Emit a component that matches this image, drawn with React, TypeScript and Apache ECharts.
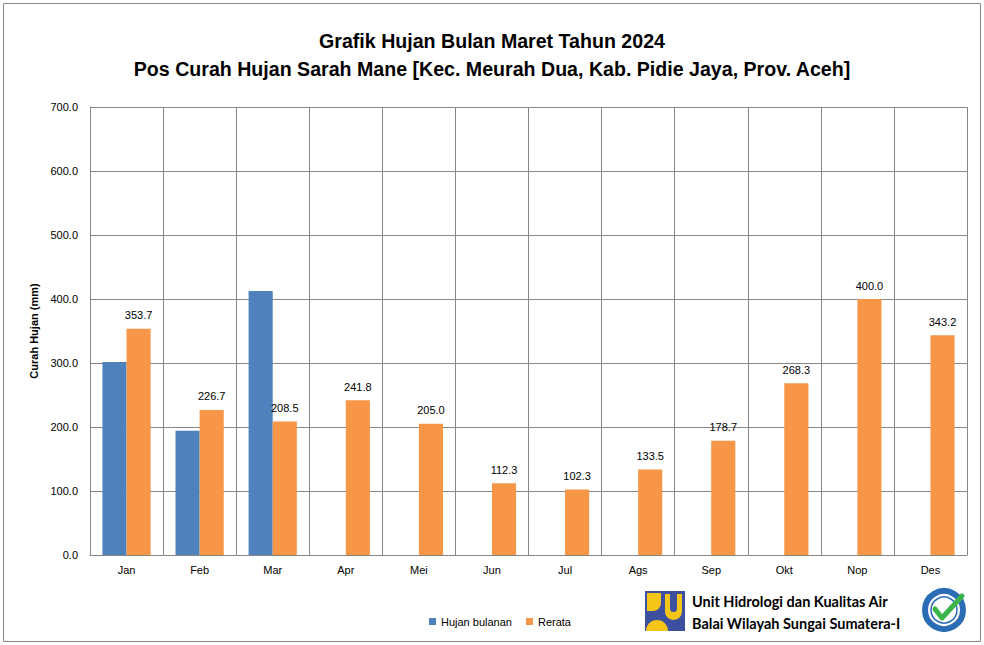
import React, { useEffect, useRef } from "react";
import * as echarts from "echarts";

const months = ["Jan", "Feb", "Mar", "Apr", "Mei", "Jun", "Jul", "Ags", "Sep", "Okt", "Nop", "Des"];
const hujanBulanan: (number | null)[] = [301.5, 194.0, 412.5, null, null, null, null, null, null, null, null, null];
const rerata = [353.7, 226.7, 208.5, 241.8, 205.0, 112.3, 102.3, 133.5, 178.7, 268.3, 400.0, 343.2];
const yTicks = { min: 0, max: 700, interval: 100 };

const titleLine1 = "Grafik Hujan Bulan Maret Tahun 2024";
const titleLine2 = "Pos Curah Hujan Sarah Mane [Kec. Meurah Dua, Kab. Pidie Jaya, Prov. Aceh]";

const NARROW = "'Liberation Sans Narrow', 'Arial Narrow', 'Liberation Sans', Arial, sans-serif";

export default function App() {
  const ref = useRef<HTMLDivElement>(null);
  useEffect(() => {
    if (!ref.current) return;
    const chart = echarts.init(ref.current, undefined, { renderer: "svg" });
    chart.setOption({
      animation: false,
      backgroundColor: "#ffffff",
      title: {
        text: titleLine1 + "\n" + titleLine2,
        left: "center",
        top: 22,
        textStyle: {
          fontFamily: NARROW,
          fontWeight: "bold",
          fontSize: 19.6,
          lineHeight: 28,
          color: "#000",
        },
      },
      legend: {
        bottom: 13,
        left: 424,
        itemWidth: 7,
        itemHeight: 7,
        itemGap: 14,
        icon: "rect",
        textStyle: { fontFamily: NARROW, fontSize: 11, color: "#000" },
        data: ["Hujan bulanan", "Rerata"],
      },
      grid: { left: 90, right: 17, top: 107, bottom: 90 },
      xAxis: {
        type: "category",
        data: months,
        axisLine: { lineStyle: { color: "#868686" } },
        axisTick: { show: false },
        splitLine: { show: true, lineStyle: { color: "#868686", width: 1 } },
        axisLabel: { fontFamily: NARROW, fontSize: 11, color: "#000", margin: 9 },
      },
      yAxis: {
        type: "value",
        min: yTicks.min,
        max: yTicks.max,
        interval: yTicks.interval,
        name: "Curah Hujan (mm)",
        nameLocation: "middle",
        nameGap: 43,
        nameTextStyle: { fontFamily: NARROW, fontWeight: "bold", fontSize: 11, color: "#000" },
        axisLine: { show: true, lineStyle: { color: "#868686" } },
        axisTick: { show: false },
        splitLine: { show: true, lineStyle: { color: "#868686", width: 1 } },
        axisLabel: {
          fontFamily: NARROW,
          fontSize: 11,
          color: "#000",
          margin: 12,
          formatter: (v: number) => v.toFixed(1),
        },
      },
      series: [
        {
          name: "Hujan bulanan",
          type: "bar",
          data: hujanBulanan,
          barGap: "0%",
          barCategoryGap: "34%",
          itemStyle: { color: "#4f81bd" },
        },
        {
          name: "Rerata",
          type: "bar",
          data: rerata,
          barGap: "0%",
          barCategoryGap: "34%",
          itemStyle: { color: "#f79646" },
          label: {
            show: true,
            position: "top",
            distance: 8,
            fontFamily: NARROW,
            fontSize: 11,
            color: "#000",
            formatter: (p: any) => Number(p.value).toFixed(1),
          },
        },
      ],
      graphic: [
        {
          type: "rect",
          shape: { x: 3.5, y: 3.5, width: 977, height: 638 },
          style: { fill: "none", stroke: "#868686", lineWidth: 1 },
          silent: true,
        },
        // PU logo
        {
          type: "group",
          left: 645,
          top: 591,
          children: [
            { type: "rect", shape: { x: 0, y: 0, width: 40, height: 40 }, style: { fill: "#3d4f9f" } },
            { type: "rect", shape: { x: 2, y: 2, width: 14, height: 18, r: [0, 0, 8, 0] }, style: { fill: "#f5c518" } },
            { type: "sector", shape: { cx: 12, cy: 40, r0: 0, r: 11, startAngle: Math.PI, endAngle: Math.PI * 2 }, style: { fill: "#f5c518" } },
            { type: "rect", shape: { x: 20, y: 3, width: 17, height: 26, r: [0, 0, 9, 9] }, style: { fill: "#f5c518" } },
            { type: "rect", shape: { x: 25, y: 3, width: 7, height: 18, r: [0, 0, 4, 4] }, style: { fill: "#3d4f9f" } },
          ],
        },
        {
          type: "text",
          left: 692,
          top: 590,
          style: {
            text: "Unit Hidrologi dan Kualitas Air\nBalai Wilayah Sungai Sumatera-I",
            font: "bold 14.5px Lato, 'Open Sans', sans-serif",
            lineHeight: 22,
            fill: "#000",
          },
        },
        // ISO badge
        {
          type: "group",
          left: 922,
          top: 588,
          children: [
            { type: "circle", shape: { cx: 22, cy: 20, r: 19 }, style: { fill: "#ffffff", stroke: "#2a6db5", lineWidth: 6 } },
            { type: "circle", shape: { cx: 22, cy: 20, r: 13 }, style: { fill: "#ffffff", stroke: "#2a6db5", lineWidth: 1.5 } },
            {
              type: "polyline",
              shape: { points: [[13, 19], [20, 28], [40, 6]] },
              style: { fill: "none", stroke: "#3bb54a", lineWidth: 5, lineCap: "round", lineJoin: "round" },
            },
          ],
        },
      ],
    });
    return () => chart.dispose();
  }, []);
  return <div ref={ref} style={{ width: 984, height: 645, position: "absolute", left: 0, top: 0 }} />;
}
